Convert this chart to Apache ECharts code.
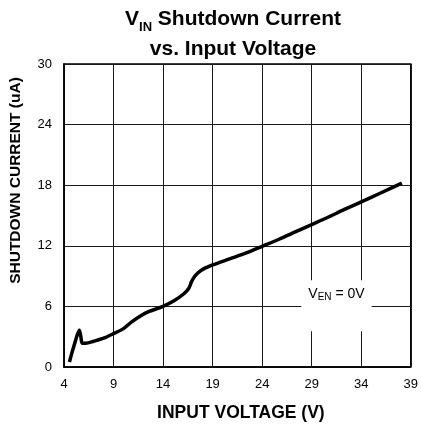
<!DOCTYPE html>
<html>
<head>
<meta charset="utf-8">
<script src="https://cdn.jsdelivr.net/npm/echarts@6/dist/echarts.min.js"></script>
<style>
  html, body { margin: 0; padding: 0; background: #fff; }
  #chart { width: 421px; height: 427px; }
</style>
</head>
<body>
<div id="chart"></div>
<script>
// Input voltage (V) and VIN shutdown current (uA) with EN held at 0 V
const inputVoltage = [
  4.55, 4.8, 5.1, 5.35, 5.55, 5.7, 5.85, 6.2, 7.0, 8.0, 9.0, 10.0, 10.8, 11.8,
  12.6, 14.0, 15.1, 16.1, 16.6, 16.9, 17.25, 17.9, 19.0, 20.7, 22.4, 24.0,
  25.7, 27.4, 29.0, 30.7, 32.3, 34.0, 35.9, 38.1
];
const shutdownCurrent = [
  0.5, 1.4, 2.4, 3.2, 3.65, 3.0, 2.35, 2.35, 2.55, 2.85, 3.3, 3.8, 4.45, 5.1,
  5.5, 6.0, 6.55, 7.25, 7.8, 8.5, 9.05, 9.6, 10.1, 10.7, 11.3, 11.95,
  12.65, 13.4, 14.1, 14.85, 15.6, 16.35, 17.2, 18.2
];
const xTicks = [4, 9, 14, 19, 24, 29, 34, 39];
const yTicks = [0, 6, 12, 18, 24, 30];

const FONT = '"Liberation Sans", Arial, Helvetica, sans-serif';
const points = inputVoltage.map((v, i) => [v, shutdownCurrent[i]]);

const chart = echarts.init(document.getElementById('chart'), null, { renderer: 'canvas' });
chart.setOption({
  animation: false,
  backgroundColor: '#fff',
  title: {
    text: '{m|V}{s|IN}{m| Shutdown Current}\n{m|vs. Input Voltage}',
    left: 228,
    top: -1,
    textAlign: 'center',
    textStyle: {
      rich: {
        m: { fontFamily: FONT, fontSize: 21, fontWeight: 'bold', color: '#000', lineHeight: 30 },
        s: { fontFamily: FONT, fontSize: 13, fontWeight: 'bold', color: '#000', lineHeight: 30, verticalAlign: 'bottom', padding: [5, 0, 0, 0] }
      }
    }
  },
  grid: {
    left: 62, right: 8, top: 64, bottom: 60,
    show: true, borderColor: '#000', borderWidth: 1.5, backgroundColor: '#fff'
  },
  xAxis: {
    type: 'value',
    min: xTicks[0], max: xTicks[xTicks.length - 1], interval: 5,
    name: 'INPUT VOLTAGE (V)',
    nameLocation: 'middle',
    nameGap: 37,
    nameTextStyle: { fontFamily: FONT, fontSize: 17.5, fontWeight: 'bold', color: '#000', padding: [0, 0, 0, 7] },
    axisLine: { show: true, lineStyle: { color: '#000', width: 1.5 } },
    axisTick: { show: false },
    axisLabel: { fontFamily: FONT, fontSize: 13, color: '#000', margin: 11 },
    splitLine: { show: true, lineStyle: { color: '#1a1a1a', width: 1 } }
  },
  yAxis: {
    type: 'value',
    min: yTicks[0], max: yTicks[yTicks.length - 1], interval: 6,
    name: 'SHUTDOWN CURRENT (uA)',
    nameLocation: 'middle',
    nameGap: 40,
    nameTextStyle: { fontFamily: FONT, fontSize: 15.5, fontWeight: 'bold', color: '#000', padding: [0, 0, 0, 70] },
    axisLine: { show: true, lineStyle: { color: '#000', width: 1.5 } },
    axisTick: { show: false },
    axisLabel: { fontFamily: FONT, fontSize: 13, color: '#000', margin: 12 },
    splitLine: { show: true, lineStyle: { color: '#1a1a1a', width: 1 } }
  },
  series: [{
    type: 'line',
    data: points,
    showSymbol: false,
    smooth: 0.3,
    lineStyle: { color: '#000', width: 3.5 },
    markArea: {
      silent: true,
      itemStyle: { color: '#fff', opacity: 1 },
      label: {
        show: true,
        position: 'insideTop',
        distance: 6,
        formatter: '{n|V}{s|EN}{n| = 0V}',
        rich: {
          n: { fontFamily: FONT, fontSize: 14, color: '#000', lineHeight: 16 },
          s: { fontFamily: FONT, fontSize: 10, color: '#000', lineHeight: 16, verticalAlign: 'bottom', padding: [4, 0, 0, 0] }
        }
      },
      data: [[{ coord: [27.95, 8.6] }, { coord: [35.05, 3.55] }]]
    }
  }]
});
</script>
</body>
</html>
